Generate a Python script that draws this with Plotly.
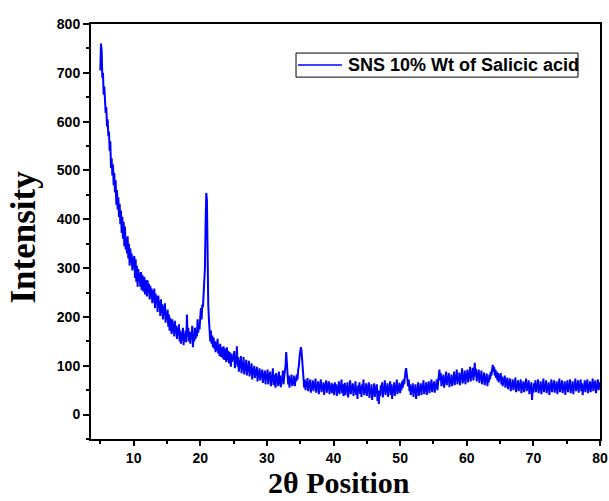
import plotly.graph_objects as go

# 2-theta sampling grid (degrees)
theta_start = 5.0
theta_step = 0.1

# Intensity; each row covers 5 degrees (50 samples of 0.1 deg)
intensity_05_10 = [705, 760, 745, 690, 700, 655, 672, 640, 618, 630,
                   590, 605, 570, 580, 540, 560, 505, 525, 490, 512,
                   470, 495, 455, 480, 430, 460, 420, 445, 405, 432,
                   390, 418, 372, 405, 360, 395, 345, 385, 338, 362,
                   330, 365, 320, 350, 305, 340, 312, 330, 295, 322]
intensity_10_15 = [300, 325, 280, 318, 272, 305, 262, 298, 275, 290,
                   262, 292, 255, 286, 268, 252, 282, 246, 276, 258,
                   242, 275, 250, 268, 236, 264, 240, 258, 228, 254,
                   232, 258, 218, 248, 228, 242, 210, 244, 220, 232,
                   202, 236, 208, 226, 195, 222, 204, 228, 188, 212]
intensity_15_20 = [195, 215, 180, 205, 172, 198, 185, 165, 195, 170,
                   188, 160, 192, 168, 182, 155, 178, 162, 185, 150,
                   172, 145, 168, 152, 178, 142, 165, 150, 172, 148,
                   205, 160, 178, 150, 170, 145, 168, 155, 182, 138,
                   165, 150, 178, 155, 172, 160, 195, 168, 185, 175]
intensity_20_25 = [200, 218, 195, 225, 220, 242, 265, 300, 390, 454,
                   440, 300, 225, 195, 180, 150, 172, 145, 162, 138,
                   158, 135, 150, 128, 148, 132, 155, 125, 142, 120,
                   145, 118, 138, 125, 115, 140, 112, 135, 120, 108,
                   138, 112, 130, 105, 128, 115, 98, 125, 108, 120]
intensity_25_30 = [112, 130, 95, 122, 105, 140, 98, 118, 88, 112,
                   95, 120, 85, 108, 92, 118, 82, 105, 90, 112,
                   80, 102, 88, 110, 78, 98, 85, 105, 72, 95,
                   82, 100, 75, 92, 80, 98, 68, 90, 76, 95,
                   70, 88, 78, 92, 65, 85, 72, 90, 62, 82]
intensity_30_35 = [75, 92, 62, 85, 70, 88, 58, 80, 68, 95,
                   60, 82, 72, 55, 85, 65, 78, 58, 88, 62,
                   80, 56, 75, 68, 90, 62, 78, 85, 100, 128,
                   105, 78, 62, 80, 55, 75, 65, 82, 58, 72,
                   62, 80, 58, 75, 68, 82, 72, 92, 100, 118]
intensity_35_40 = [125, 138, 130, 110, 85, 70, 55, 72, 50, 68,
                   58, 75, 48, 66, 55, 72, 45, 62, 52, 70,
                   48, 65, 55, 74, 45, 60, 52, 68, 42, 63,
                   55, 72, 46, 60, 50, 66, 40, 62, 54, 70,
                   45, 64, 52, 68, 42, 60, 48, 65, 44, 62]
intensity_40_45 = [58, 40, 66, 48, 62, 38, 58, 45, 68, 42,
                   60, 50, 72, 44, 62, 38, 55, 65, 40, 58,
                   48, 66, 35, 56, 45, 70, 42, 60, 50, 64,
                   38, 58, 46, 68, 40, 55, 32, 60, 48, 66,
                   42, 58, 36, 62, 50, 72, 40, 56, 45, 64]
intensity_45_50 = [38, 60, 48, 66, 34, 55, 44, 62, 30, 52,
                   42, 64, 36, 58, 45, 62, 28, 50, 22, 48,
                   38, 60, 44, 66, 35, 56, 48, 70, 40, 58,
                   45, 64, 36, 55, 48, 68, 40, 62, 32, 56,
                   46, 66, 38, 60, 50, 72, 42, 58, 48, 65]
intensity_50_55 = [44, 62, 50, 68, 55, 72, 62, 80, 88, 95,
                   82, 70, 58, 72, 48, 62, 40, 58, 46, 64,
                   36, 55, 44, 62, 32, 52, 45, 66, 38, 58,
                   48, 64, 40, 60, 52, 70, 42, 58, 48, 66,
                   40, 62, 50, 68, 44, 60, 52, 72, 46, 64]
intensity_55_60 = [50, 68, 45, 62, 55, 72, 50, 66, 78, 92,
                   70, 85, 58, 78, 62, 82, 55, 75, 65, 88,
                   60, 78, 68, 85, 56, 74, 64, 82, 58, 76,
                   66, 88, 60, 80, 70, 92, 62, 78, 68, 86,
                   60, 82, 72, 95, 64, 80, 70, 90, 62, 84]
intensity_60_65 = [72, 92, 66, 85, 75, 98, 68, 88, 78, 96,
                   70, 90, 106, 78, 94, 68, 86, 74, 92, 65,
                   82, 72, 90, 62, 80, 70, 86, 60, 78, 68,
                   84, 58, 76, 66, 82, 72, 88, 80, 95, 102,
                   88, 98, 80, 92, 75, 88, 70, 85, 66, 82]
intensity_65_70 = [70, 85, 62, 78, 58, 74, 66, 80, 55, 72,
                   60, 76, 52, 68, 58, 74, 48, 65, 56, 72,
                   50, 66, 58, 76, 46, 62, 54, 70, 48, 64,
                   55, 72, 44, 62, 52, 68, 46, 64, 56, 74,
                   48, 62, 54, 70, 42, 60, 50, 66, 30, 55]
intensity_70_75 = [45, 64, 52, 70, 46, 62, 54, 72, 44, 60,
                   50, 68, 42, 58, 52, 74, 46, 62, 55, 70,
                   44, 60, 50, 66, 40, 58, 52, 72, 46, 64,
                   55, 70, 45, 62, 50, 68, 42, 60, 54, 74,
                   46, 64, 52, 70, 44, 58, 50, 68, 40, 62]
intensity_75_80 = [52, 70, 46, 62, 55, 72, 44, 60, 50, 68,
                   42, 60, 54, 74, 48, 64, 52, 70, 45, 62,
                   55, 72, 48, 64, 40, 60, 52, 70, 46, 66,
                   54, 72, 44, 62, 50, 68, 46, 64, 56, 74,
                   48, 66, 54, 70, 44, 62, 52, 72, 50, 66, 58]

intensity = (intensity_05_10 + intensity_10_15 + intensity_15_20 + intensity_20_25 +
             intensity_25_30 + intensity_30_35 + intensity_35_40 + intensity_40_45 +
             intensity_45_50 + intensity_50_55 + intensity_55_60 + intensity_60_65 +
             intensity_65_70 + intensity_70_75 + intensity_75_80)
two_theta = [round(theta_start + i * theta_step, 2) for i in range(len(intensity))]

x_ticks = [10, 20, 30, 40, 50, 60, 70, 80]
y_ticks = [0, 100, 200, 300, 400, 500, 600, 700, 800]
series_name = "SNS 10% Wt of Salicic acid"
x_title = "2θ Position"
y_title = "Intensity"

fig = go.Figure()
fig.add_trace(go.Scatter(x=two_theta, y=intensity, mode="lines", name=series_name,
                         showlegend=False,
                         line=dict(color="#0000FF", width=2)))

sans = "Liberation Sans, Arial, sans-serif"
serif = "Liberation Serif, Times New Roman, serif"
tick_font = dict(family=sans, size=14, color="black", weight="bold")

# Legend box (drawn as a framed key, like the original)
fig.add_shape(type="rect", xref="paper", yref="paper", x0=0.4028, x1=0.9568, y0=0.872, y1=0.930,
              line=dict(color="black", width=1), fillcolor="white", layer="above")
fig.add_shape(type="line", xref="paper", yref="paper", x0=0.4067, x1=0.4931, y0=0.901, y1=0.901,
              line=dict(color="#0000FF", width=1.5), layer="above")
fig.add_annotation(xref="paper", yref="paper", x=0.5010, y=0.901, xanchor="left", yanchor="middle",
                   text="<b>" + series_name + "</b>", showarrow=False,
                   font=dict(family=sans, size=18, color="black"))

# Axis titles
fig.add_annotation(xref="paper", yref="paper", x=0.487, y=-0.106, xanchor="center", yanchor="middle",
                   text="<b>" + x_title + "</b>", showarrow=False,
                   font=dict(family=serif, size=30, color="black"))
fig.add_annotation(xref="paper", yref="paper", x=-0.1316, y=0.4855, xanchor="center", yanchor="middle",
                   text="<b>" + y_title + "</b>", showarrow=False, textangle=-90,
                   font=dict(family=serif, size=35, color="black"))

fig.update_layout(
    width=609, height=501,
    margin=dict(l=91, r=9, t=24, b=62),
    paper_bgcolor="white", plot_bgcolor="white",
    showlegend=False,
    xaxis=dict(range=[3.6, 80], tickvals=x_ticks, ticks="outside", ticklen=5, tickwidth=1.5,
               tickcolor="black", automargin=False,
               showline=True, linecolor="black", linewidth=2, mirror=True,
               showgrid=False, zeroline=False, tickfont=tick_font,
               minor=dict(dtick=5, ticks="outside", ticklen=3, tickwidth=1.5, tickcolor="black")),
    yaxis=dict(range=[-50, 800], tickvals=y_ticks, ticks="outside", ticklen=6, tickwidth=1.5,
               tickcolor="black", automargin=False,
               showline=True, linecolor="black", linewidth=2, mirror=True,
               showgrid=False, zeroline=False, tickfont=tick_font,
               minor=dict(dtick=50, ticks="outside", ticklen=3, tickwidth=1.5, tickcolor="black")),
)

fig.write_html("out.html", config={"displayModeBar": False},
               post_script="document.body.style.margin='0';")
